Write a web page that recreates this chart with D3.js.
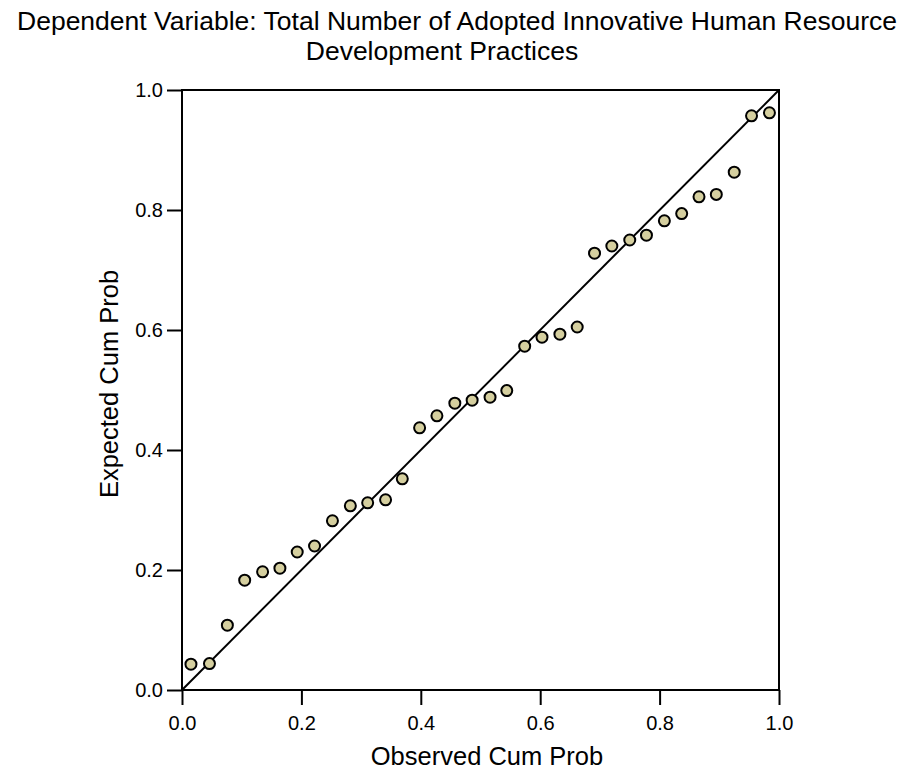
<!DOCTYPE html>
<html>
<head>
<meta charset="utf-8">
<script src="https://cdn.jsdelivr.net/npm/d3@7"></script>
<style>
  body { margin: 0; background: #fff; }
  svg { display: block; font-family: "Liberation Sans", Arial, sans-serif; }
  .axis path, .axis line { stroke: #000; stroke-width: 2; }
  .axis text { font-size: 20px; fill: #000; }
</style>
</head>
<body>
<div id="chart"></div>
<script>
(function() {
  var titleLines = ['Dependent Variable: Total Number of Adopted Innovative Human Resource', 'Development Practices'];
  var xLabel = 'Observed Cum Prob';
  var yLabel = 'Expected Cum Prob';
  var tickValues = [0, 0.2, 0.4, 0.6, 0.8, 1.0];

  var observed = [0.015, 0.046, 0.076, 0.105, 0.135, 0.164, 0.193, 0.222, 0.252, 0.282,
    0.311, 0.341, 0.369, 0.398, 0.427, 0.457, 0.486, 0.516, 0.544, 0.574,
    0.603, 0.633, 0.662, 0.691, 0.72, 0.75, 0.778, 0.808, 0.837, 0.866,
    0.895, 0.925, 0.954, 0.984];
  var expected = [0.043, 0.044, 0.108, 0.183, 0.197, 0.203, 0.230, 0.240, 0.282, 0.307,
    0.312, 0.317, 0.352, 0.437, 0.457, 0.478, 0.483, 0.488, 0.499, 0.573,
    0.588, 0.593, 0.605, 0.728, 0.740, 0.750, 0.758, 0.782, 0.794, 0.822,
    0.826, 0.863, 0.957, 0.962];

  var width = 908;
  var height = 771;
  var margin = { top: 90, right: 129, bottom: 81, left: 182 };

  var svg = d3.select('#chart').append('svg')
    .attr('width', width)
    .attr('height', height);

  var x = d3.scaleLinear().domain([0, 1]).range([margin.left, width - margin.right]);
  var y = d3.scaleLinear().domain([0, 1]).range([height - margin.bottom, margin.top]);

  svg.selectAll('text.title')
    .data(titleLines)
    .enter().append('text')
    .attr('class', 'title')
    .attr('x', function(d, i) { return i === 0 ? 457 : 442; })
    .attr('y', function(d, i) { return 30 + i * 30; })
    .attr('text-anchor', 'middle')
    .style('font-size', '26.5px')
    .text(function(d) { return d; });

  // frame
  svg.append('rect')
    .attr('x', x(0)).attr('y', y(1))
    .attr('width', x(1) - x(0)).attr('height', y(0) - y(1))
    .attr('fill', 'none').attr('stroke', '#000').attr('stroke-width', 2);

  svg.append('g')
    .attr('class', 'axis')
    .attr('transform', 'translate(0,' + y(0) + ')')
    .call(d3.axisBottom(x).tickValues(tickValues).tickFormat(d3.format('.1f')).tickSize(15).tickPadding(11))
    .call(function(g) { g.select('.domain').remove(); });

  svg.append('g')
    .attr('class', 'axis')
    .attr('transform', 'translate(' + x(0) + ',0)')
    .call(d3.axisLeft(y).tickValues(tickValues).tickFormat(d3.format('.1f')).tickSize(15).tickPadding(4))
    .call(function(g) { g.select('.domain').remove(); });

  svg.append('line')
    .attr('x1', x(0)).attr('y1', y(0))
    .attr('x2', x(1)).attr('y2', y(1))
    .attr('stroke', '#000').attr('stroke-width', 2);

  svg.append('g').selectAll('circle')
    .data(observed)
    .enter().append('circle')
    .attr('cx', function(d) { return x(d); })
    .attr('cy', function(d, i) { return y(expected[i]); })
    .attr('r', 5.5)
    .attr('fill', '#d5cf9f')
    .attr('stroke', '#000')
    .attr('stroke-width', 2);

  svg.append('text')
    .attr('x', 487)
    .attr('y', 765)
    .attr('text-anchor', 'middle')
    .style('font-size', '25.5px')
    .text(xLabel);

  svg.append('text')
    .attr('transform', 'translate(118,384) rotate(-90)')
    .attr('text-anchor', 'middle')
    .style('font-size', '25.5px')
    .text(yLabel);
})();
</script>
</body>
</html>
